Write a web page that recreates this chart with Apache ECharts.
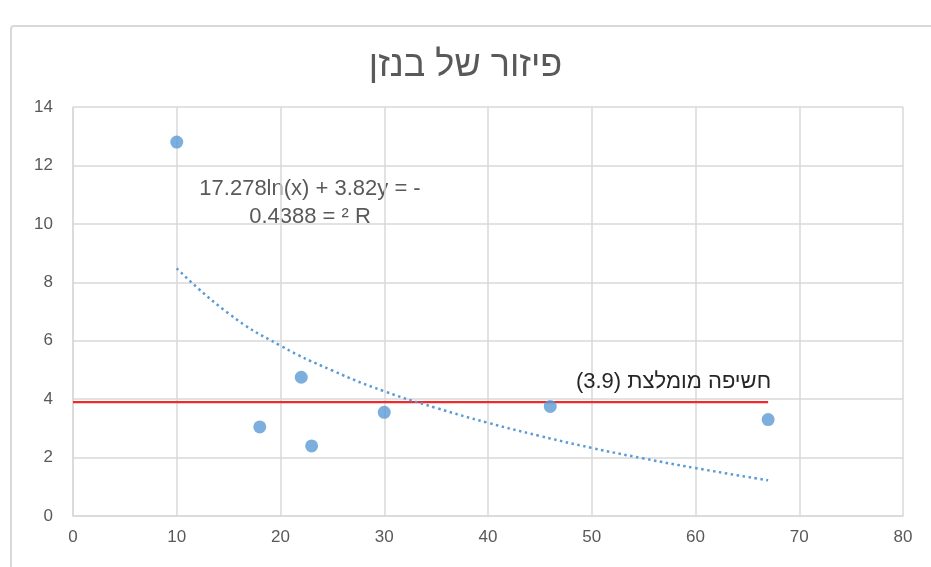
<!DOCTYPE html>
<html>
<head>
<meta charset="utf-8">
<script src="https://cdn.jsdelivr.net/npm/echarts@6/dist/echarts.min.js"></script>
<style>
html,body{margin:0;padding:0;background:#fff;}
#chart{width:931px;height:567px;}
</style>
</head>
<body>
<div id="chart"></div>
<script>
// Data
const titleText = 'פיזור של בנזן';
const pointsX = [10, 18, 22, 23, 30, 46, 67];
const pointsY = [12.8, 3.05, 4.75, 2.4, 3.55, 3.75, 3.3];
const trendX = [10, 15, 20, 25, 30, 35, 40, 45, 50, 55, 60, 67];
const trendY = [8.48, 6.93, 5.83, 4.98, 4.27, 3.70, 3.19, 2.74, 2.33, 1.97, 1.64, 1.22];
const refX = [0, 67];
const refY = [3.9, 3.9];
const refLabel = '(3.9) חשיפה מומלצת';
const equationLines = ['17.278ln(x) + 3.82y = -', '0.4388 = ² R'];
const xTicks = [0, 10, 20, 30, 40, 50, 60, 70, 80];
const yTicks = [0, 2, 4, 6, 8, 10, 12, 14];

const chart = echarts.init(document.getElementById('chart'), null, {renderer: 'canvas'});
const gray = '#595959';
const gridColor = '#d9d9d9';
const tickFont = '"Liberation Sans Narrow", "Liberation Sans", Arial, sans-serif';
const textFont = '"Liberation Sans", Arial, sans-serif';

const option = {
  backgroundColor: '#fff',
  animation: false,
  title: {
    text: titleText,
    left: 'center',
    top: 43,
    textStyle: {fontFamily: textFont, fontSize: 36, fontWeight: 'normal', color: gray}
  },
  grid: {left: 73, top: 107, width: 830, height: 409, containLabel: false},
  xAxis: {
    type: 'value', min: xTicks[0], max: xTicks[xTicks.length - 1], interval: 10,
    axisLine: {show: true, lineStyle: {color: gridColor, width: 1.5}},
    axisTick: {show: false},
    splitLine: {show: true, lineStyle: {color: gridColor, width: 1.5}},
    axisLabel: {margin: 13, fontSize: 17, color: gray, fontFamily: tickFont}
  },
  yAxis: {
    type: 'value', min: yTicks[0], max: yTicks[yTicks.length - 1], interval: 2,
    axisLine: {show: true, lineStyle: {color: gridColor, width: 1.5}},
    axisTick: {show: false},
    splitLine: {show: true, lineStyle: {color: gridColor, width: 1.5}},
    axisLabel: {margin: 20, fontSize: 17, color: gray, fontFamily: tickFont}
  },
  graphic: [
    {type: 'rect', shape: {x: 11, y: 26, width: 960, height: 600, r: 3}, style: {fill: 'none', stroke: '#d9d9d9', lineWidth: 2}, z: -1},
    {type: 'text', x: 310, y: 175, style: {text: equationLines.join('\n'), fill: gray, font: '22px ' + textFont, textAlign: 'center', textVerticalAlign: 'top', lineHeight: 28}}
  ],
  series: [
    {
      type: 'line', data: refX.map((x, i) => [x, refY[i]]),
      symbol: 'none', lineStyle: {color: '#ee2a2a', width: 2.2}, z: 3,
      markPoint: {
        symbol: 'circle', symbolSize: 0,
        data: [{coord: [refX[1], refY[1]], value: refLabel}],
        label: {show: true, position: 'top', align: 'right', distance: 9, formatter: refLabel, color: '#262626', fontSize: 22, fontFamily: textFont, offset: [3, 0]}
      }
    },
    {
      type: 'line', data: trendX.map((x, i) => [x, trendY[i]]), smooth: true,
      symbol: 'none', lineStyle: {color: '#5b9bd5', width: 2.5, type: [2.5, 3.5]}, z: 4
    },
    {
      type: 'scatter', data: pointsX.map((x, i) => [x, pointsY[i]]),
      symbolSize: 13, itemStyle: {color: '#5b9bd5'}, z: 5
    }
  ]
};
chart.setOption(option);
</script>
</body>
</html>
